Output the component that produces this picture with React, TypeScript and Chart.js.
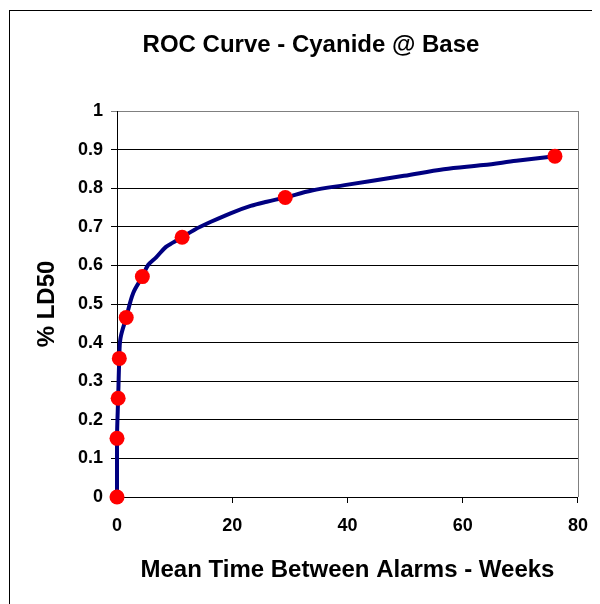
import React, { useEffect, useRef } from "react";
import { Chart, registerables } from "chart.js";

Chart.register(...registerables);

const chartTitle = "ROC Curve - Cyanide @ Base";
const xAxisTitle = "Mean Time Between Alarms - Weeks";
const yAxisTitle = "% LD50";

// Red markers
const markerX = [0, 0, 0.2, 0.4, 1.6, 4.4, 11.3, 29.2, 76.0];
const markerY = [0, 0.152, 0.256, 0.359, 0.465, 0.571, 0.673, 0.776, 0.883];

// Smoothed navy curve
const lineX = [0, 0, 0.2, 0.4, 0.6, 1.6, 2.8, 4.4, 5.4, 6.8, 8.5, 9.7, 11.3, 13.4, 16.3, 19.7, 23.2, 26.0, 29.2, 33.8, 39.5, 49.8, 56.7, 63.6, 69.3, 76.0];
const lineY = [0, 0.152, 0.256, 0.359, 0.411, 0.465, 0.528, 0.571, 0.601, 0.621, 0.648, 0.659, 0.673, 0.692, 0.713, 0.735, 0.754, 0.765, 0.776, 0.794, 0.808, 0.832, 0.849, 0.860, 0.871, 0.883];

const xMin = 0;
const xMax = 80;
const xStep = 20;
const yMin = 0;
const yMax = 1;
const yStep = 0.1;

const FONT = '"Liberation Sans", Arial, Helvetica, sans-serif';

export default function App() {
  const ref = useRef<HTMLCanvasElement>(null);

  useEffect(() => {
    if (!ref.current) return;

    const titlePlugin = {
      id: "customTitle",
      afterDraw(chart: any) {
        const { ctx } = chart;
        ctx.save();
        ctx.font = `bold 24px ${FONT}`;
        ctx.fillStyle = "#000";
        ctx.textAlign = "center";
        ctx.textBaseline = "alphabetic";
        ctx.fillText(chartTitle, 301, 41);
        ctx.restore();
      },
    };

    const framePlugin = {
      id: "frame",
      beforeDatasetsDraw(chart: any) {
        const { ctx, chartArea } = chart;
        ctx.save();
        ctx.strokeStyle = "#808080";
        ctx.lineWidth = 1;
        ctx.beginPath();
        const x = Math.round(chartArea.right) + 0.5;
        ctx.moveTo(x, chartArea.top);
        ctx.lineTo(x, chartArea.bottom);
        ctx.stroke();
        ctx.restore();
      },
    };

    const chart = new Chart(ref.current, {
      type: "scatter",
      data: {
        datasets: [
          {
            label: "markers",
            data: markerX.map((x, i) => ({ x, y: markerY[i] })),
            showLine: false,
            pointRadius: 7.5,
            pointBackgroundColor: "#ff0000",
            pointBorderWidth: 0,
            pointBorderColor: "#ff0000",
            clip: false,
          } as any,
          {
            label: "curve",
            data: lineX.map((x, i) => ({ x, y: lineY[i] })),
            showLine: true,
            borderColor: "#000080",
            borderWidth: 4,
            tension: 0.35,
            pointRadius: 0,
            clip: false,
          } as any,
        ],
      },
      options: {
        animation: false,
        responsive: false,
        devicePixelRatio: 1,
        layout: { padding: { left: 0, right: 18, top: 100, bottom: 0 } },
        plugins: {
          legend: { display: false },
          title: { display: false },
          tooltip: { enabled: false },
        },
        scales: {
          x: {
            type: "linear",
            min: xMin,
            max: xMax,
            afterFit: (s: any) => {
              s.height = 107;
            },
            ticks: {
              stepSize: xStep,
              color: "#000",
              font: { family: FONT, size: 18, weight: "bold" },
              padding: 12,
            },
            grid: {
              drawOnChartArea: false,
              color: "#000",
              tickLength: 6,
            },
            border: { color: "#000", width: 1 },
            title: {
              display: true,
              text: xAxisTitle,
              color: "#000",
              font: { family: FONT, size: 24, weight: "bold" },
              padding: { top: 0, bottom: 19 },
            },
          },
          y: {
            type: "linear",
            min: yMin,
            max: yMax,
            afterFit: (s: any) => {
              s.width = 107;
            },
            ticks: {
              stepSize: yStep,
              color: "#000",
              font: { family: FONT, size: 18, weight: "bold" },
              padding: 8,
              callback: (v: any) => {
                const n = Number(v);
                return Math.abs(n - Math.round(n)) < 1e-9 ? String(Math.round(n)) : n.toFixed(1);
              },
            },
            grid: {
              color: (c: any) => (c.tick && Math.abs(c.tick.value - yMax) < 1e-9 ? "#808080" : "#000"),
              tickLength: 6,
              lineWidth: 1,
            },
            border: { color: "#000", width: 1 },
            title: {
              display: true,
              text: yAxisTitle,
              color: "#000",
              font: { family: FONT, size: 24, weight: "bold" },
              padding: { top: 23, bottom: 0 },
            },
          },
        },
      } as any,
      plugins: [titlePlugin, framePlugin],
    });

    return () => chart.destroy();
  }, []);

  return (
    <div
      style={{
        position: "relative",
        left: 1,
        top: 2,
        width: 620,
        height: 620,
        border: "1px solid #000",
        boxSizing: "content-box",
        background: "#fff",
      }}
    >
      <canvas ref={ref} width={590} height={593} style={{ display: "block", width: 590, height: 593 }} />
    </div>
  );
}
